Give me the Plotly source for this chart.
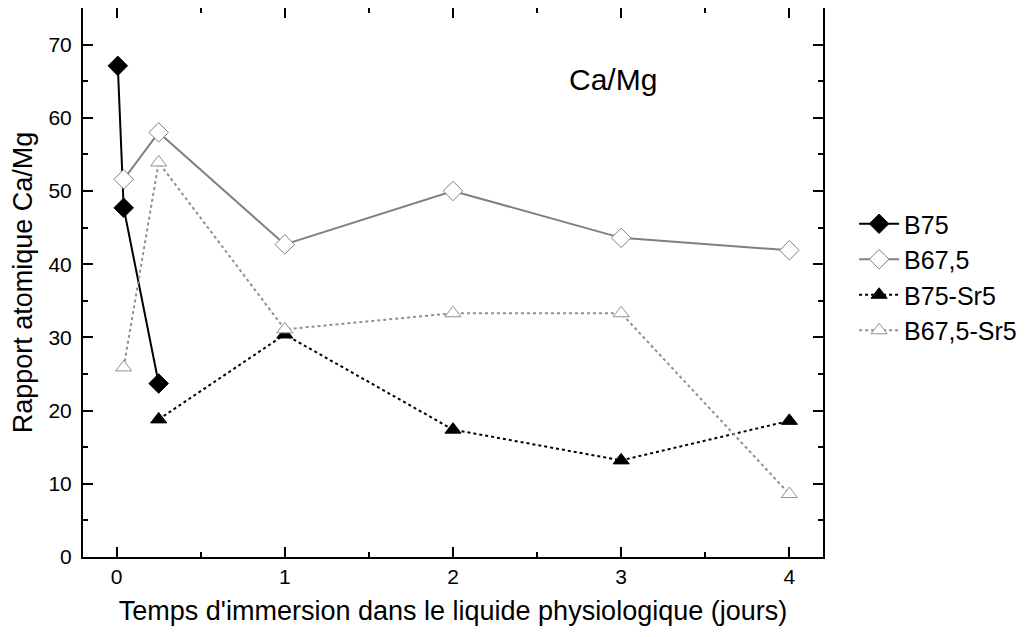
import plotly.graph_objects as go

# Data (time in days, Ca/Mg atomic ratio)
b75_x = [0.007, 0.042, 0.25]
b75_y = [67.1, 47.7, 23.7]

b675_x = [0.042, 0.25, 1, 2, 3, 4]
b675_y = [51.6, 58.0, 42.7, 50.0, 43.6, 41.9]

b75sr_x = [0.25, 1, 2, 3, 4]
b75sr_y = [18.8, 30.4, 17.4, 13.2, 18.6]

b675sr_x = [0.042, 0.25, 1, 2, 3, 4]
b675sr_y = [25.9, 53.9, 31.1, 33.3, 33.3, 8.6]

FONT = "Liberation Sans, Arial, sans-serif"

fig = go.Figure()
fig.add_trace(go.Scatter(x=b75_x, y=b75_y, name="B75", mode="lines+markers",
                         line=dict(color="black", width=2),
                         marker=dict(symbol="diamond", size=15, color="black",
                                     line=dict(color="black", width=1))))
fig.add_trace(go.Scatter(x=b675_x, y=b675_y, name="B67,5", mode="lines+markers",
                         line=dict(color="#808080", width=2),
                         marker=dict(symbol="diamond", size=15, color="white",
                                     line=dict(color="#808080", width=1))))
fig.add_trace(go.Scatter(x=b75sr_x, y=b75sr_y, name="B75-Sr5", mode="lines+markers",
                         line=dict(color="black", width=2, dash="dot"),
                         marker=dict(symbol="triangle-up", size=14, color="black",
                                     line=dict(color="black", width=1))))
fig.add_trace(go.Scatter(x=b675sr_x, y=b675sr_y, name="B67,5-Sr5", mode="lines+markers",
                         line=dict(color="#909090", width=2, dash="dot"),
                         marker=dict(symbol="triangle-up", size=14, color="white",
                                     line=dict(color="#909090", width=1))))

fig.add_annotation(x=0.716, y=0.869, xref="paper", yref="paper", text="Ca/Mg",
                   xanchor="center", yanchor="middle",
                   showarrow=False, font=dict(size=30, color="black", family=FONT))

axis_common = dict(showline=True, linecolor="black", linewidth=2, mirror="ticks",
                   ticks="inside", ticklen=10, tickwidth=2, tickcolor="black",
                   showgrid=False, zeroline=False, automargin=False,
                   tickfont=dict(size=21, color="black", family=FONT))

fig.update_xaxes(range=[-0.2, 4.2], tickmode="array", tickvals=[0, 1, 2, 3, 4],
                 minor=dict(ticks="inside", ticklen=5, tickwidth=2, tickcolor="black",
                            tickvals=[0.5, 1.5, 2.5, 3.5], showgrid=False),
                 title=dict(text="Temps d'immersion dans le liquide physiologique (jours)",
                            font=dict(size=27, color="black", family=FONT), standoff=14),
                 **axis_common)
fig.update_yaxes(range=[0, 75], tickmode="array", tickvals=[0, 10, 20, 30, 40, 50, 60, 70],
                 minor=dict(ticks="inside", ticklen=5, tickwidth=2, tickcolor="black",
                            tickvals=[5, 15, 25, 35, 45, 55, 65], showgrid=False),
                 ticklabelstandoff=5,
                 title=dict(text="Rapport atomique Ca/Mg",
                            font=dict(size=27, color="black", family=FONT), standoff=10),
                 **axis_common)

fig.update_layout(width=1018, height=629, autosize=False,
                  margin=dict(l=75, r=203, t=0, b=80),
                  paper_bgcolor="white", plot_bgcolor="white",
                  font=dict(family=FONT, color="black"),
                  legend=dict(x=1.042, y=0.51, xanchor="left", yanchor="middle",
                              font=dict(size=25, color="black", family=FONT),
                              bgcolor="rgba(0,0,0,0)", tracegroupgap=0, itemwidth=40))

fig.write_html("out.html")
